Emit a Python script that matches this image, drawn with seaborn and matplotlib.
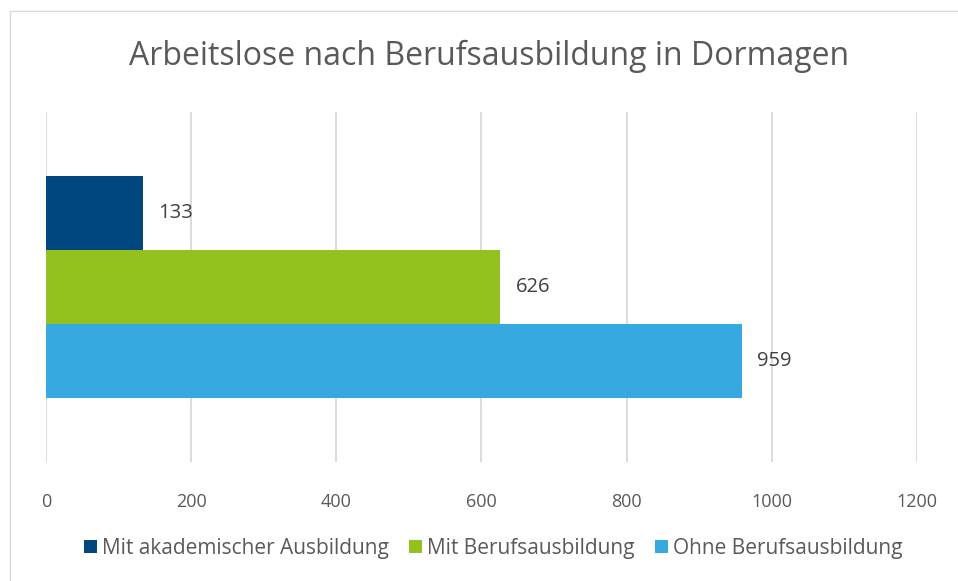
import matplotlib
matplotlib.use("Agg")
import matplotlib.pyplot as plt
from matplotlib.lines import Line2D
from matplotlib.patches import Patch
import pandas as pd
import seaborn as sns

# data
category = ["Dormagen"]
series = ["Mit akademischer Ausbildung", "Mit Berufsausbildung", "Ohne Berufsausbildung"]
values = [133, 626, 959]
colors = ["#00467F", "#95C11F", "#36A9E1"]
x_ticks = [0, 200, 400, 600, 800, 1000, 1200]

df = pd.DataFrame({
    "Gruppe": category * len(series),
    "Serie": series,
    "Anzahl": values,
})

sns.set_theme(style="white")
plt.rcParams["font.family"] = ["Open Sans", "DejaVu Sans"]

fig = plt.figure(figsize=(9.58, 5.81), dpi=100)
ax = fig.add_axes([0.048, 0.2048, 0.909, 0.6024])

sns.barplot(data=df, x="Anzahl", y="Gruppe", hue="Serie", hue_order=series,
            palette=colors, width=0.8, saturation=1, orient="h",
            linewidth=0, legend=False, ax=ax)

ax.set_xlim(0, 1200)
ax.set_ylim(0.633, -0.633)
ax.set_xticks(x_ticks)
ax.set_xticklabels([str(t) for t in x_ticks])
ax.set_yticks([])
ax.set_xlabel("")
ax.set_ylabel("")
ax.grid(axis="x", color="#D9D9D9", linewidth=1.3)
ax.set_axisbelow(True)
for s in ax.spines.values():
    s.set_visible(False)
ax.tick_params(axis="x", length=0, pad=22, labelsize=13, labelcolor="#595959")

for bars in ax.containers:
    ax.bar_label(bars, padding=11, fontsize=14.5, color="#404040")

fig.text(0.511, 0.903, "Arbeitslose nach Berufsausbildung in Dormagen",
         ha="center", va="center", fontsize=23, color="#595959")

handles = [Patch(facecolor=c, edgecolor="none") for c in colors]
fig.legend(handles, series, loc="center", bbox_to_anchor=(0.515, 0.056), ncol=3,
           frameon=False, fontsize=15, handlelength=0.6, handleheight=0.6,
           handletextpad=0.25, columnspacing=1.0, labelcolor="#595959")

# light chart-area frame (left and top edges visible in the crop)
fig.add_artist(Line2D([10 / 958, 10 / 958], [0, 1 - 11 / 581], color="#D9D9D9",
                      linewidth=1, transform=fig.transFigure))
fig.add_artist(Line2D([10 / 958, 1], [1 - 11 / 581, 1 - 11 / 581], color="#D9D9D9",
                      linewidth=1, transform=fig.transFigure))

fig.savefig("out.png", dpi=100)
